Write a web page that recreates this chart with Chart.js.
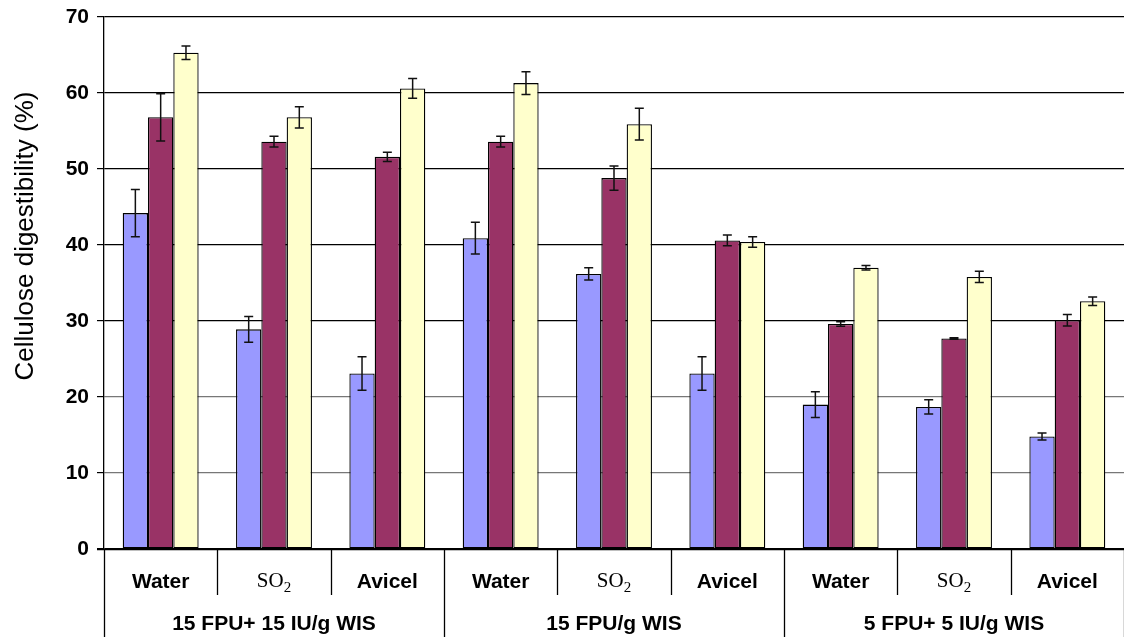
<!DOCTYPE html>
<html lang="en">
<head>
    <meta charset="UTF-8">
    <title>Cellulose digestibility</title>
    <script src="https://cdn.jsdelivr.net/npm/chart.js"></script>
    <style>
        * { margin: 0; padding: 0; box-sizing: border-box; }
        body { background: #fff; }
        #wrap { width: 1124px; height: 637px; }
    </style>
</head>
<body>
<div id="wrap"><canvas id="chart"></canvas></div>
<script>
    // categories (lower axis row) and groups (second row)
    var categories = ['Water', 'SO2', 'Avicel', 'Water', 'SO2', 'Avicel', 'Water', 'SO2', 'Avicel'];
    var groups = ['15 FPU+ 15 IU/g WIS', '15 FPU/g WIS', '5 FPU+ 5 IU/g WIS'];
    var yTicks = [0, 10, 20, 30, 40, 50, 60, 70];
    var yTitle = 'Cellulose digestibility (%)';

    // series values, with error bar half-widths
    var blue = [44.2, 28.9, 23.1, 40.9, 36.2, 23.1, 19.0, 18.7, 14.8];
    var blueErr = [3.1, 1.7, 2.2, 2.1, 0.8, 2.2, 1.7, 0.95, 0.45];
    var maroon = [56.8, 53.6, 51.6, 53.6, 48.8, 40.6, 29.6, 27.7, 30.1];
    var maroonErr = [3.1, 0.7, 0.6, 0.7, 1.6, 0.7, 0.3, 0.1, 0.75];
    var yellow = [65.3, 56.8, 60.6, 61.3, 55.9, 40.4, 37.0, 35.8, 32.6];
    var yellowErr = [0.9, 1.4, 1.3, 1.5, 2.1, 0.7, 0.3, 0.75, 0.55];

    var errors = [blueErr, maroonErr, yellowErr];

    // error bars on top of each bar
    var errorBars = {
        id: 'errorBars',
        afterDatasetsDraw: function (chart) {
            var ctx = chart.ctx;
            var y = chart.scales.y;
            ctx.save();
            ctx.strokeStyle = '#111';
            ctx.lineWidth = 1.5;
            chart.data.datasets.forEach(function (ds, di) {
                var meta = chart.getDatasetMeta(di);
                meta.data.forEach(function (bar, i) {
                    var v = ds.data[i], e = errors[di][i];
                    var top = y.getPixelForValue(v + e);
                    var bot = y.getPixelForValue(v - e);
                    ctx.beginPath();
                    ctx.moveTo(bar.x, top); ctx.lineTo(bar.x, bot);
                    ctx.moveTo(bar.x - 4.5, top); ctx.lineTo(bar.x + 4.5, top);
                    ctx.moveTo(bar.x - 4.5, bot); ctx.lineTo(bar.x + 4.5, bot);
                    ctx.stroke();
                });
            });
            ctx.restore();
        }
    };

    // two-level category axis drawn below the plot, plus the y title
    var groupAxis = {
        id: 'groupAxis',
        afterDraw: function (chart) {
            var ctx = chart.ctx;
            var area = chart.chartArea;
            var x = chart.scales.x;
            var catW = (area.right - area.left) / categories.length;
            var H = chart.height;
            ctx.save();
            ctx.strokeStyle = '#000';
            ctx.lineWidth = 1.3;
            // axis line
            ctx.beginPath();
            ctx.moveTo(area.left - 7, area.bottom + 0.5);
            ctx.lineTo(area.right, area.bottom + 0.5);
            ctx.stroke();
            // separators
            for (var i = 0; i <= categories.length; i++) {
                var px = Math.round(area.left + i * catW) + 0.5;
                var isGroup = i % 3 === 0;
                ctx.beginPath();
                ctx.moveTo(px, area.bottom);
                ctx.lineTo(px, isGroup ? H : area.bottom + 46);
                ctx.stroke();
            }
            // category labels
            ctx.fillStyle = '#000';
            ctx.textBaseline = 'middle';
            categories.forEach(function (c, i) {
                var cx = x.getPixelForValue(i);
                var cy = area.bottom + 33;
                if (c === 'SO2') {
                    ctx.font = '21px "Liberation Serif", "Times New Roman", serif';
                    var w1 = ctx.measureText('SO').width;
                    ctx.font = '15px "Liberation Serif", "Times New Roman", serif';
                    var w2 = ctx.measureText('2').width;
                    var sx = cx - (w1 + w2) / 2;
                    ctx.textAlign = 'left';
                    ctx.font = '21px "Liberation Serif", "Times New Roman", serif';
                    ctx.fillText('SO', sx, cy - 1);
                    ctx.font = '15px "Liberation Serif", "Times New Roman", serif';
                    ctx.fillText('2', sx + w1, cy + 6);
                } else {
                    ctx.textAlign = 'center';
                    ctx.font = 'bold 21px "Liberation Sans", Arial, sans-serif';
                    ctx.fillText(c, cx, cy);
                }
            });
            // group labels
            ctx.textAlign = 'center';
            ctx.font = 'bold 21px "Liberation Sans", Arial, sans-serif';
            groups.forEach(function (g, gi) {
                var gx = area.left + (gi * 3 + 1.5) * catW;
                ctx.fillText(g, gx, area.bottom + 75);
            });
            // y axis title
            ctx.translate(33, 236);
            ctx.rotate(-Math.PI / 2);
            ctx.textAlign = 'center';
            ctx.textBaseline = 'alphabetic';
            ctx.font = '26px "Liberation Sans", Arial, sans-serif';
            ctx.fillText(yTitle, 0, 0);
            ctx.restore();
        }
    };

    var ctx = document.getElementById('chart').getContext('2d');
    var chart = new Chart(ctx, {
        type: 'bar',
        data: {
            labels: categories,
            datasets: [
                { label: 'A', data: blue, backgroundColor: '#9999FF' },
                { label: 'B', data: maroon, backgroundColor: '#993366' },
                { label: 'C', data: yellow, backgroundColor: '#FFFFCC' }
            ]
        },
        options: {
            responsive: true,
            maintainAspectRatio: false,
            animation: false,
            devicePixelRatio: 1,
            layout: { padding: { top: 17, right: 0, bottom: 0, left: 0 } },
            datasets: {
                bar: {
                    categoryPercentage: 0.67,
                    barPercentage: 1,
                    borderColor: '#000',
                    borderWidth: 1.3,
                    borderSkipped: false
                }
            },
            plugins: {
                legend: { display: false },
                tooltip: { enabled: false }
            },
            scales: {
                x: {
                    ticks: { display: false },
                    grid: { display: false },
                    border: { display: false },
                    afterFit: function (s) { s.height = 88; }
                },
                y: {
                    min: 0,
                    max: 70,
                    afterFit: function (s) {
                        s.width = 104;
                        s.paddingTop = 0;
                        s.paddingBottom = 0;
                    },
                    afterBuildTicks: function (s) {
                        s.ticks = yTicks.map(function (v) { return { value: v }; });
                    },
                    ticks: {
                        color: '#000',
                        padding: 8,
                        font: { family: '"Liberation Sans", Arial, sans-serif', size: 21, weight: 'bold' }
                    },
                    grid: {
                        color: function (c) {
                            var v = c.tick ? c.tick.value : 0;
                            return (v === 10 || v === 20) ? '#777' : '#000';
                        },
                        lineWidth: 1.2,
                        tickLength: 7,
                        tickColor: '#000'
                    },
                    border: { display: true, color: '#000', width: 1.3 },
                    title: { display: false }
                }
            }
        },
        plugins: [errorBars, groupAxis]
    });
</script>
</body>
</html>
